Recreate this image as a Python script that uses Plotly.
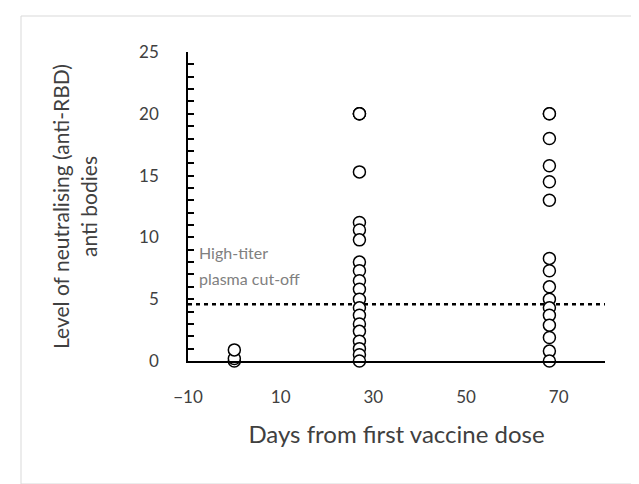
import plotly.graph_objects as go

# Data
day0_x = 0
day0_values = [0.0, 0.2, 0.9]
day27_x = 27
day27_values = [20.0, 20.0, 20.0, 15.3, 11.2, 10.6, 9.8, 8.0, 7.3, 6.5, 5.8,
                5.0, 4.3, 3.7, 3.0, 2.4, 1.6, 1.0, 0.5, 0.0]
day68_x = 68
day68_values = [20.0, 20.0, 18.0, 15.8, 14.5, 13.0, 8.3, 7.3, 6.0, 5.0, 4.3,
                3.7, 2.9, 1.9, 0.8, 0.0]
cutoff_value = 4.6
cutoff_x = [-10, 80]
x_ticks = [-10, 10, 30, 50, 70]
y_ticks = [0, 5, 10, 15, 20, 25]

xs = [day0_x] * len(day0_values) + [day27_x] * len(day27_values) + [day68_x] * len(day68_values)
ys = day0_values + day27_values + day68_values

FONT = "Lato, 'Open Sans', sans-serif"
TXT = "#404040"

L, R, T, B = 180, 42, 44, 131
PW, PH = 639 - L - R, 484 - T - B


def px(x):
    return (x - L) / PW


def py(y):
    return (484 - B - y) / PH


fig = go.Figure()
fig.add_trace(go.Scatter(
    x=cutoff_x, y=[cutoff_value, cutoff_value], mode="lines",
    line=dict(color="black", width=2.5, dash="4px,4px"), hoverinfo="skip", showlegend=False))
fig.add_trace(go.Scatter(
    x=xs, y=ys, mode="markers",
    marker=dict(symbol="circle", size=12, color="white",
                line=dict(color="black", width=1.5)),
    showlegend=False, cliponaxis=False))

fig.update_layout(
    width=639, height=484,
    margin=dict(l=L, r=R, t=T, b=B),
    paper_bgcolor="white", plot_bgcolor="white",
    font=dict(family=FONT, size=17, color=TXT),
    xaxis=dict(range=[-10, 80], tickvals=x_ticks, showline=True, linecolor="black",
               linewidth=1.5, ticks="", showgrid=False, zeroline=False,
               ticklabelstandoff=20,
               tickfont=dict(size=17, color=TXT),
               title=dict(text="Days from first vaccine dose", font=dict(size=24, color=TXT),
                          standoff=20)),
    yaxis=dict(range=[0, 25], tickvals=y_ticks, showline=True, linecolor="black",
               linewidth=1.5, ticks="inside", ticklen=6, tickwidth=1.5, tickcolor="black",
               minor=dict(dtick=1, ticks="inside", ticklen=6, tickwidth=1.5, tickcolor="black"),
               showgrid=False, zeroline=False, ticklabelstandoff=24,
               tickfont=dict(size=17, color=TXT),
               title=dict(text="Level of neutralising (anti-RBD)<br>anti bodies",
                          font=dict(size=21, color=TXT), standoff=36)),
    annotations=[
        dict(xref="paper", yref="paper", x=px(189), y=py(245), xanchor="left", yanchor="middle",
             showarrow=False, text="High-titer", font=dict(size=16, color="#808080")),
        dict(xref="paper", yref="paper", x=px(189), y=py(270), xanchor="left", yanchor="middle",
             showarrow=False, text="plasma cut-off", font=dict(size=16, color="#808080")),
    ],
    shapes=[dict(type="rect", xref="paper", yref="paper",
                 x0=px(13), x1=px(627), y0=py(476), y1=py(8),
                 line=dict(color="#d9d9d9", width=1), layer="below")],
)

fig.write_html("out.html")
